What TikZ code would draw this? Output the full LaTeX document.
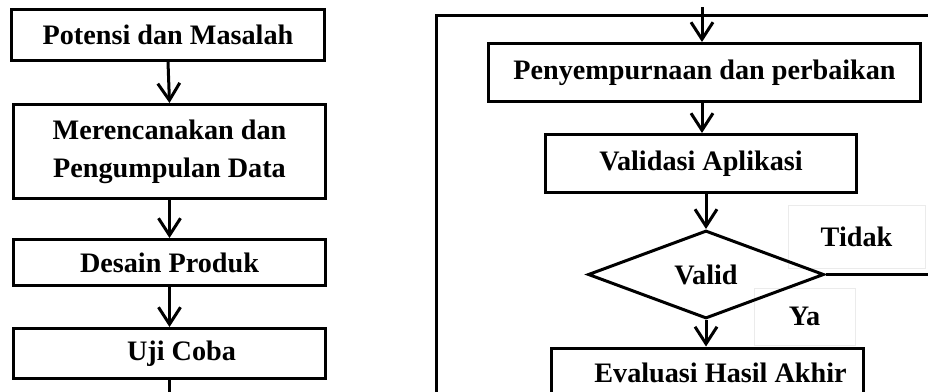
\documentclass[tikz,border=0pt]{standalone}
\usepackage{fontspec}
\setmainfont{Liberation Serif}
\usetikzlibrary{arrows.meta,shapes.geometric}
\begin{document}
\begin{tikzpicture}[x=1pt,y=-1pt,
  box/.style={draw, rectangle, line width=3pt, inner sep=0pt, align=center,
    font=\fontsize{28.2}{38}\selectfont\bfseries},
  dec/.style={draw, diamond, line width=3pt, inner sep=0pt,
    font=\fontsize{28.2}{38}\selectfont\bfseries},
  lbl/.style={draw=black!8, line width=1pt, rectangle, inner sep=0pt,
    font=\fontsize{28.2}{38}\selectfont\bfseries},
  arr/.style={line width=3pt, -{Straight Barb[length=17pt,width=22pt,line width=3pt]}},
  ln/.style={line width=3pt}]
\useasboundingbox (0,0) rectangle (928,391);
\fill[white] (0,0) rectangle (928,391);
% left column
\node[box, minimum width=313pt, minimum height=51pt] (b1) at (168,35) {Potensi dan Masalah};
\node[box, minimum width=312pt, minimum height=94pt] (b2) at (169.5,151.5) {Merencanakan dan\\Pengumpulan Data};
\node[box, minimum width=312pt, minimum height=46pt] (b3) at (169.5,262.5) {Desain Produk};
\node[box, minimum width=312pt, minimum height=50pt] (b4) at (169.5,353.5) {\hspace*{24pt}Uji Coba};
\coordinate (b4out) at (169.5,395);
\draw[arr] (b1.south) -- (b2.north);
\draw[arr] (b2.south) -- (b3.north);
\draw[arr] (b3.south) -- (b4.north);
\draw[ln] (b4.south) -- (b4out);
% frame
\coordinate (fbl) at (436,395);
\coordinate (ftl) at (436,15);
\coordinate (ftr) at (932,15);
\draw[ln] (fbl) -- (ftl) -- (ftr);
% right column labels
\node[lbl, minimum width=137pt, minimum height=63pt] (tidak) at (856.5,236.5) {Tidak};
\node[lbl, minimum width=101pt, minimum height=57pt] (ya) at (804.5,316.5) {Ya};
% right column
\coordinate (topin) at (702,7);
\node[box, minimum width=432pt, minimum height=58pt] (p1) at (704.5,72.5) {Penyempurnaan dan perbaikan};
\node[box, minimum width=311pt, minimum height=58pt] (p2) at (701,163.5) {Validasi Aplikasi};
\node[dec, minimum width=236pt, minimum height=88pt] (d) at (706,274.5) {Valid};
\node[box, fill=white, minimum width=312pt, minimum height=50pt] (e) at (707.5,373) {\hspace*{26pt}Evaluasi Hasil Akhir};
\coordinate (dout) at (932,274.5);
\draw[arr] (topin) -- (topin |- p1.north);
\draw[arr] (p1.south -| topin) -- (p2.north -| topin);
\draw[arr] (d.north |- p2.south) -- (d.north);
\draw[arr] (d.south) -- (d.south |- e.north);
\draw[ln] (d.east) -- (dout);
\end{tikzpicture}
\end{document}
